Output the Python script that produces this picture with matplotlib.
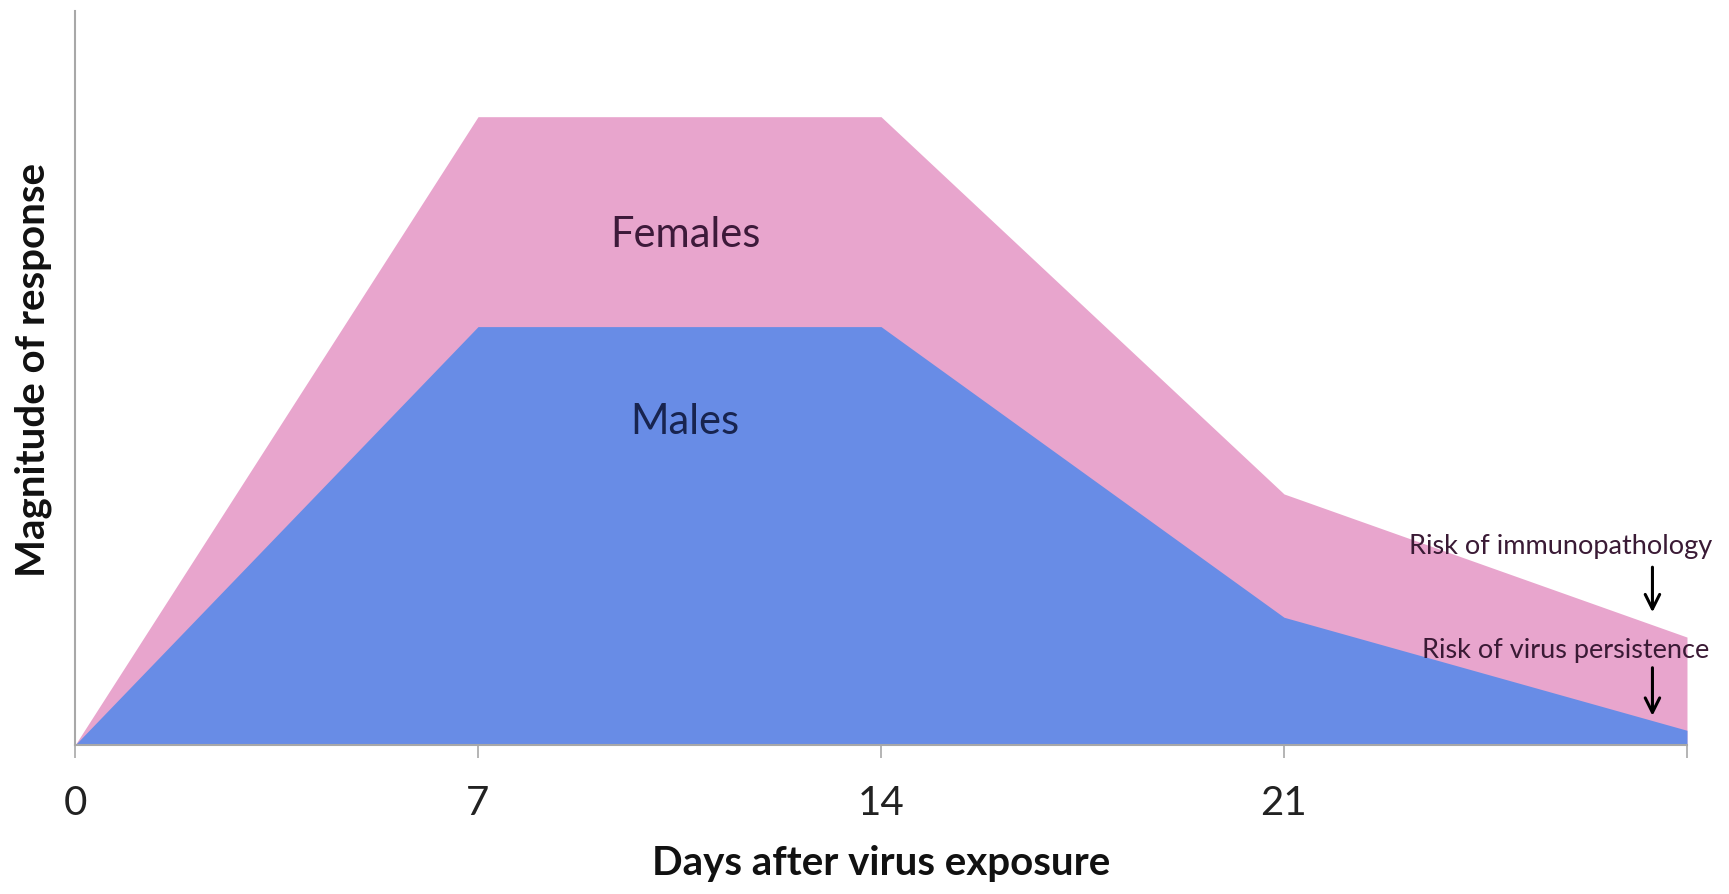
import matplotlib.pyplot as plt
import numpy as np

# %% DATA
days = [0, 7, 14, 21, 28]
females = [0, 85.6, 85.6, 34.2, 14.7]
males = [0, 57, 57, 17.4, 2]
tick_days = [0, 7, 14, 21, 28]
tick_labels = ['0', '7', '14', '21', '']

plt.rcParams['font.family'] = ['Lato', 'DejaVu Sans']

# %% PLOT
fig = plt.figure(figsize=(17.29, 8.94), dpi=100)
ax = fig.add_axes([0.0434, 0.1667, 0.9323, 0.821])

ax.fill_between(days, 0, females, color='#e8a5cd', lw=0)
ax.fill_between(days, 0, males, color='#688ce6', lw=0)

ax.set_xlim(0, 28)
ax.set_ylim(0, 100)
ax.set_xticks(tick_days)
ax.set_xticklabels(tick_labels, fontsize=29, color='#222222')
ax.set_yticks([])
ax.tick_params(axis='x', direction='out', length=9, width=1.2,
               color='#a8a8a8', pad=20)

for s in ['top', 'right']:
    ax.spines[s].set_visible(False)
for s in ['left', 'bottom']:
    ax.spines[s].set_color('#a8a8a8')
    ax.spines[s].set_linewidth(1.5)

ax.set_xlabel('Days after virus exposure', fontsize=29, fontweight='bold',
              color='#111111', va='baseline')
ax.xaxis.set_label_coords(0.5, -0.177)
ax.set_ylabel('Magnitude of response', fontsize=29, fontweight='bold',
              color='#111111')
ax.yaxis.set_label_coords(-0.0143, 0.511)

ax.text(10.6, 69.5, 'Females', fontsize=30, ha='center', va='center',
        color='#3d1a3a')
ax.text(10.6, 44, 'Males', fontsize=30, ha='center', va='center',
        color='#18244f')

ax.text(25.8, 27, 'Risk of immunopathology', fontsize=19.5, ha='center',
        va='center', color='#3a1a35')
ax.text(25.9, 12.9, 'Risk of virus persistence', fontsize=19.5, ha='center',
        va='center', color='#3a1a35')
ax.annotate('', xy=(27.4, 17.7), xytext=(27.4, 24.6),
            arrowprops=dict(arrowstyle='->', color='black', lw=2.2,
                            mutation_scale=26))
ax.annotate('', xy=(27.4, 3.6), xytext=(27.4, 10.9),
            arrowprops=dict(arrowstyle='->', color='black', lw=2.2,
                            mutation_scale=26))

fig.savefig('out.png', dpi=100)
